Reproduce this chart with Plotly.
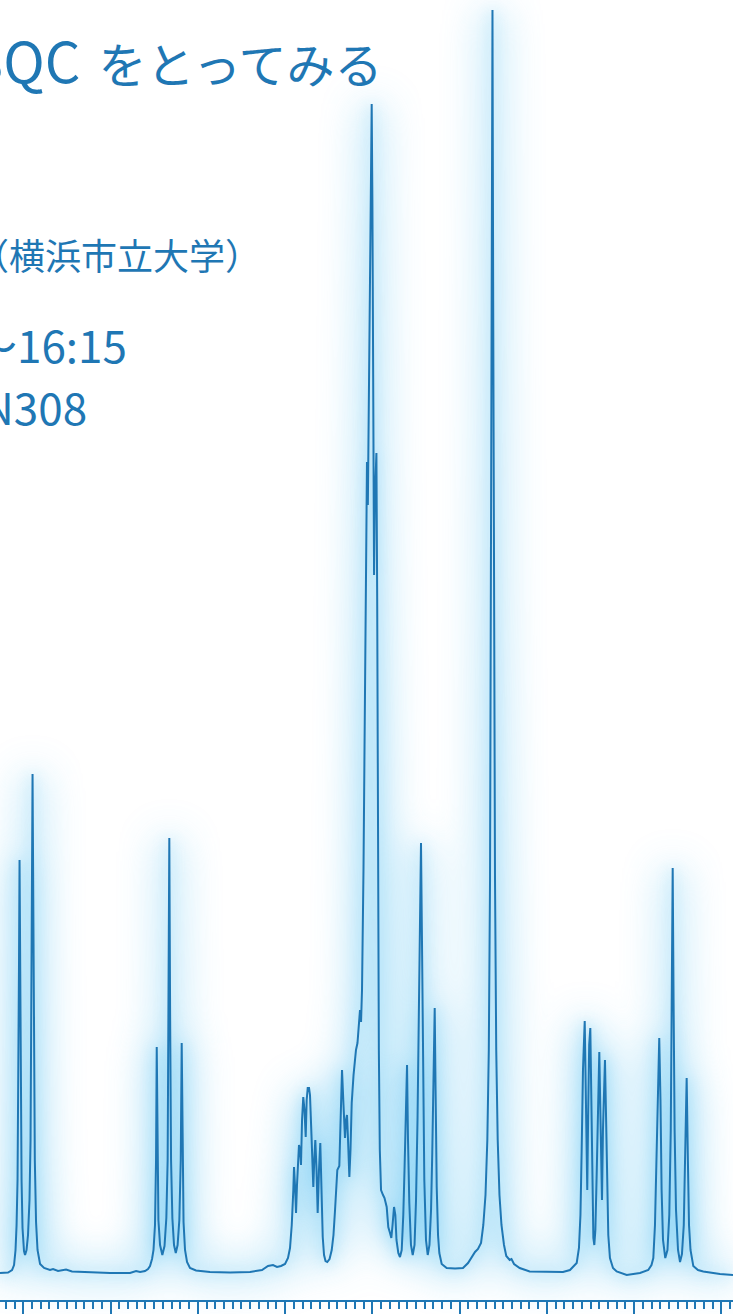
import plotly.graph_objects as go

# chemical shift (ppm) and intensity (arbitrary units)
ppm = [
    9.267, 9.175, 9.129, 9.106, 9.089, 9.077, 9.066, 9.055, 9.049, 9.043,
    9.037, 9.029, 9.020, 9.009, 8.992, 8.980, 8.963, 8.946, 8.929, 8.917,
    8.906, 8.900, 8.894, 8.887, 8.879, 8.868, 8.854, 8.837, 8.808, 8.762,
    8.694, 8.659, 8.602, 8.510, 8.442, 8.235, 8.006, 7.777, 7.708, 7.662,
    7.605, 7.571, 7.548, 7.525, 7.508, 7.491, 7.479, 7.471, 7.463, 7.452,
    7.433, 7.407, 7.382, 7.361, 7.346, 7.336, 7.327, 7.318, 7.307, 7.292,
    7.273, 7.253, 7.232, 7.212, 7.196, 7.185, 7.176, 7.164, 7.147, 7.124,
    7.090, 7.021, 6.861, 6.631, 6.402, 6.265, 6.196, 6.139, 6.093, 6.047,
    6.001, 5.967, 5.944, 5.924, 5.906, 5.898, 5.887, 5.875, 5.864, 5.852,
    5.841, 5.829, 5.818, 5.806, 5.792, 5.778, 5.764, 5.753, 5.741, 5.726,
    5.715, 5.698, 5.677, 5.666, 5.654, 5.640, 5.627, 5.612, 5.597, 5.583,
    5.569, 5.554, 5.537, 5.517, 5.491, 5.466, 5.446, 5.428, 5.413, 5.402,
    5.379, 5.365, 5.348, 5.331, 5.314, 5.302, 5.291, 5.279, 5.264, 5.251,
    5.237, 5.216, 5.199, 5.188, 5.171, 5.159, 5.142, 5.130, 5.119, 5.102,
    5.085, 5.071, 5.062, 5.052, 5.044, 5.027, 5.016, 5.008, 5.000, 4.989,
    4.981, 4.972, 4.963, 4.954, 4.945, 4.936, 4.926, 4.915, 4.901, 4.878,
    4.861, 4.836, 4.818, 4.798, 4.783, 4.769, 4.752, 4.737, 4.724, 4.703,
    4.684, 4.664, 4.646, 4.632, 4.617, 4.603, 4.592, 4.577, 4.558, 4.538,
    4.517, 4.500, 4.483, 4.468, 4.454, 4.443, 4.433, 4.420, 4.405, 4.386,
    4.366, 4.346, 4.328, 4.314, 4.300, 4.286, 4.276, 4.263, 4.248, 4.233,
    4.206, 4.149, 4.053, 3.962, 3.904, 3.862, 3.824, 3.790, 3.755, 3.729,
    3.704, 3.683, 3.666, 3.652, 3.641, 3.632, 3.624, 3.616, 3.607, 3.595,
    3.581, 3.564, 3.544, 3.521, 3.492, 3.466, 3.427, 3.406, 3.377, 3.312,
    3.198, 3.011, 2.816, 2.736, 2.659, 2.633, 2.616, 2.602, 2.587, 2.567,
    2.555, 2.546, 2.538, 2.527, 2.516, 2.503, 2.492, 2.479, 2.468, 2.457,
    2.445, 2.429, 2.413, 2.400, 2.386, 2.376, 2.369, 2.358, 2.346, 2.335,
    2.322, 2.308, 2.297, 2.278, 2.243, 2.201, 2.086, 1.934, 1.839, 1.802,
    1.781, 1.762, 1.745, 1.728, 1.713, 1.699, 1.686, 1.670, 1.644, 1.619,
    1.598, 1.581, 1.569, 1.559, 1.549, 1.537, 1.521, 1.498, 1.475, 1.453,
    1.432, 1.415, 1.399, 1.385, 1.372, 1.355, 1.323, 1.269, 1.209, 1.017,
    0.868,
]
intensity = [
    4.10, 4.15, 4.40, 4.90, 6.40, 8.90, 13.40, 23.40, 35.40, 45.40,
    35.40, 23.40, 13.40, 8.60, 6.30, 5.90, 6.40, 7.90, 11.40, 17.40,
    31.40, 43.40, 54.00, 43.40, 28.40, 15.40, 9.20, 6.40, 5.00, 4.60,
    4.40, 4.50, 4.30, 4.45, 4.25, 4.15, 4.10, 4.10, 4.30, 4.20,
    4.30, 4.50, 4.80, 5.50, 6.40, 8.90, 15.40, 26.70, 15.40, 9.40,
    6.90, 5.90, 6.80, 9.60, 15.40, 30.40, 47.60, 30.40, 15.40, 9.60,
    6.90, 6.10, 6.90, 9.40, 15.40, 27.10, 15.40, 9.20, 6.40, 5.20,
    4.60, 4.35, 4.20, 4.15, 4.20, 4.40, 4.80, 4.90, 4.70, 4.80,
    5.00, 5.60, 6.60, 8.90, 12.40, 14.70, 12.90, 10.10, 12.90, 15.90,
    16.90, 16.40, 14.90, 19.40, 21.70, 20.40, 17.70, 21.40, 22.60, 22.60,
    21.90, 17.90, 12.70, 15.40, 17.40, 14.40, 10.10, 14.40, 17.10, 12.40,
    7.70, 5.90, 5.30, 5.20, 5.50, 6.40, 7.90, 10.40, 13.40, 14.40,
    14.80, 19.40, 24.40, 20.90, 17.60, 19.40, 19.90, 17.40, 13.70, 16.40,
    21.10, 23.90, 25.40, 26.40, 27.10, 28.90, 30.40, 29.20, 32.40, 44.40,
    61.40, 79.40, 85.20, 80.90, 89.40, 106.40, 116.40, 121.00, 111.40, 86.40,
    73.90, 81.40, 85.40, 86.10, 71.40, 46.40, 26.40, 16.40, 12.40, 11.90,
    11.60, 10.70, 8.70, 8.10, 7.60, 8.90, 10.70, 9.90, 7.40, 6.10,
    5.70, 6.40, 9.90, 14.40, 19.40, 24.90, 17.40, 11.10, 6.90, 5.90,
    6.90, 11.40, 19.40, 29.40, 39.40, 47.10, 38.40, 23.40, 13.40, 7.40,
    5.90, 6.90, 10.40, 16.10, 23.40, 30.60, 22.40, 12.70, 7.90, 6.10,
    5.00, 4.60, 4.55, 4.60, 5.10, 5.70, 6.20, 6.50, 7.10, 8.90,
    11.90, 17.40, 26.40, 43.40, 71.40, 101.40, 130.40, 101.40, 71.40, 43.40,
    26.40, 17.40, 11.90, 8.90, 6.90, 5.80, 5.40, 5.50, 5.00, 4.60,
    4.25, 4.20, 4.20, 4.40, 5.10, 6.60, 9.90, 16.40, 24.40, 29.30,
    23.40, 15.40, 12.40, 20.40, 26.90, 28.60, 21.40, 11.40, 7.60, 6.90,
    8.40, 14.40, 23.40, 26.20, 19.40, 13.40, 11.40, 18.40, 23.90, 25.40,
    19.40, 11.40, 7.90, 5.60, 4.60, 4.25, 3.90, 4.10, 4.40, 4.90,
    5.60, 8.90, 15.40, 23.40, 27.60, 21.40, 12.40, 7.40, 5.60, 6.40,
    9.90, 18.40, 31.40, 44.60, 31.40, 18.40, 10.40, 6.40, 5.20, 6.00,
    8.90, 15.40, 23.60, 15.40, 8.90, 6.40, 4.80, 4.40, 4.25, 4.00,
    3.90,
]

title_latin = "HSQC"
title_kana = "をとってみる"
affil_text = "（横浜市立大学）"
time_text = "〜16:15"
room_text = "N308"

BLUE = "#1f77b4"
GLOW = "#4cbcf0"
FONT = "Noto Sans CJK JP"

fig = go.Figure()

# glow layers (blurred afterwards by an SVG filter)
fig.add_trace(go.Scatter(x=ppm, y=intensity, mode="lines",
                         line=dict(color=GLOW, width=16), opacity=0.5,
                         hoverinfo="skip", showlegend=False))
fig.add_trace(go.Scatter(x=ppm, y=intensity, mode="lines",
                         line=dict(color=GLOW, width=6), opacity=0.25,
                         hoverinfo="skip", showlegend=False))
# spectrum line
fig.add_trace(go.Scatter(x=ppm, y=intensity, mode="lines",
                         line=dict(color=BLUE, width=2), showlegend=False))

annotations = [
    dict(text="<span style='font-size:56px'>" + title_latin + "</span>"
              "<span style='font-size:36px'>\u2002</span>" + title_kana,
         x=385 / 733, y=1 - 58 / 1314, xanchor="right", yanchor="middle",
         font=dict(family=FONT, size=48, color=BLUE)),
    dict(text=affil_text, x=-29 / 733, y=1 - 254 / 1314, xanchor="left", yanchor="middle",
         font=dict(family=FONT, size=36, color=BLUE)),
    dict(text=time_text, x=129 / 733, y=1 - 344 / 1314, xanchor="right", yanchor="middle",
         font=dict(family=FONT, size=44, color=BLUE)),
    dict(text=room_text, x=89 / 733, y=1 - 406 / 1314, xanchor="right", yanchor="middle",
         font=dict(family=FONT, size=44, color=BLUE)),
]
for a in annotations:
    a.update(xref="paper", yref="paper", showarrow=False)

fig.update_layout(
    width=733, height=1314,
    margin=dict(l=0, r=0, t=0, b=0),
    paper_bgcolor="white", plot_bgcolor="rgba(0,0,0,0)",
    annotations=annotations,
    xaxis=dict(
        range=[9.267, 0.868], anchor="free", position=13.3 / 1314,
        showgrid=False, zeroline=False,
        showline=True, linecolor=BLUE, linewidth=2,
        ticks="outside", ticklen=13, tickwidth=2, tickcolor=BLUE,
        tickmode="linear", tick0=0, dtick=1,
        showticklabels=False,
        minor=dict(ticks="outside", ticklen=7, tickwidth=1.5, tickcolor=BLUE,
                   dtick=0.1, tick0=0, showgrid=False),
    ),
    yaxis=dict(range=[0, 131.4], visible=False, domain=[0, 1]),
)

post = """
document.body.style.margin = '0';
document.body.style.overflow = 'hidden';
var gd = document.getElementById('{plot_id}');
var ns = 'http://www.w3.org/2000/svg';
var svg = gd.querySelector('svg.main-svg');
var defs = svg.querySelector('defs');
if (!defs) { defs = document.createElementNS(ns, 'defs'); svg.insertBefore(defs, svg.firstChild); }
function mk(id, sd) {
  var f = document.createElementNS(ns, 'filter');
  f.setAttribute('id', id);
  f.setAttribute('filterUnits', 'userSpaceOnUse');
  f.setAttribute('x', '-300'); f.setAttribute('y', '-300');
  f.setAttribute('width', '1400'); f.setAttribute('height', '2000');
  var b = document.createElementNS(ns, 'feGaussianBlur');
  b.setAttribute('stdDeviation', sd);
  f.appendChild(b);
  defs.appendChild(f);
}
mk('glowA', 20);
mk('glowB', 7);
var tr = gd.querySelectorAll('.scatterlayer .trace');
if (tr.length >= 3) {
  tr[0].querySelectorAll('path').forEach(function (p) { p.setAttribute('filter', 'url(#glowA)'); });
  tr[1].querySelectorAll('path').forEach(function (p) { p.setAttribute('filter', 'url(#glowB)'); });
}
"""

fig.write_html("out.html", config={"displayModeBar": False}, post_script=post)
